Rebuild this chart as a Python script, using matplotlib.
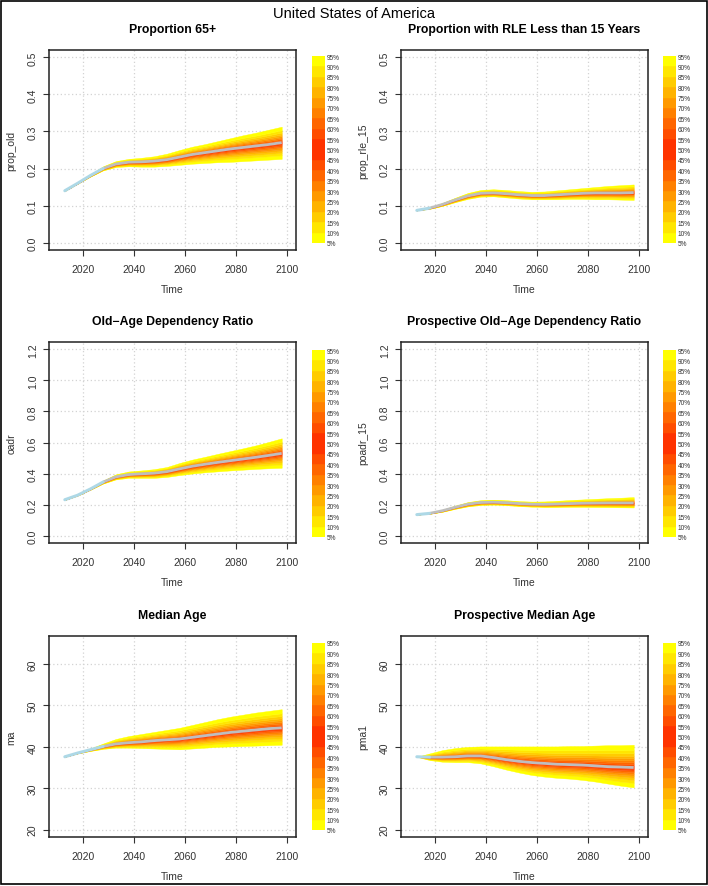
import matplotlib
matplotlib.use("Agg")
import matplotlib.pyplot as plt
from matplotlib.patches import Rectangle
from statistics import NormalDist

plt.rcParams['font.family'] = ['Liberation Sans', 'DejaVu Sans']

# ---- data ----
years = [2013, 2018, 2023, 2028, 2033, 2038, 2043, 2048, 2053,
         2058, 2063, 2068, 2073, 2078, 2083, 2088, 2093, 2098]

titles = ["Proportion 65+", "Proportion with RLE Less than 15 Years",
          "Old\u2212Age Dependency Ratio", "Prospective Old\u2212Age Dependency Ratio",
          "Median Age", "Prospective Median Age"]
ylabels = ["prop_old", "prop_rle_15", "oadr", "poadr_15", "ma", "pma1"]

# 50% line, 5% and 95% bounds
prop_old_med = [.140, .160, .181, .200, .212, .217, .218, .220, .224, .231, .238, .243, .248, .253, .257, .261, .265, .270]
prop_old_hi = [.140, .161, .184, .206, .220, .226, .229, .233, .240, .250, .259, .266, .274, .282, .290, .297, .305, .313]
prop_old_lo = [.140, .159, .178, .195, .204, .206, .205, .205, .207, .210, .213, .215, .217, .218, .220, .222, .224, .226]

rle_med = [.087, .093, .103, .115, .126, .133, .134, .132, .129, .127, .127, .129, .131, .133, .134, .134, .134, .135]
rle_hi = [.087, .095, .107, .121, .134, .142, .144, .142, .139, .137, .138, .141, .144, .147, .150, .153, .155, .157]
rle_lo = [.087, .091, .099, .109, .118, .124, .125, .122, .119, .117, .117, .117, .118, .118, .117, .117, .116, .115]

oadr_med = [.231, .260, .300, .345, .378, .393, .398, .402, .412, .430, .447, .460, .472, .483, .494, .505, .517, .530]
oadr_hi = [.231, .262, .305, .355, .395, .413, .420, .428, .442, .468, .490, .508, .527, .545, .563, .582, .604, .627]
oadr_lo = [.231, .258, .295, .335, .362, .372, .372, .372, .378, .390, .400, .408, .414, .420, .425, .430, .434, .437]

poadr_med = [.135, .143, .160, .182, .202, .213, .215, .212, .206, .202, .201, .203, .206, .208, .209, .210, .210, .210]
poadr_hi = [.135, .146, .167, .193, .216, .228, .231, .228, .222, .219, .220, .224, .229, .233, .237, .241, .244, .248]
poadr_lo = [.135, .140, .153, .172, .188, .197, .199, .196, .190, .186, .184, .184, .185, .185, .184, .183, .182, .181]

ma_med = [37.6, 38.5, 39.3, 40.1, 40.7, 41.0, 41.2, 41.5, 41.7, 41.9, 42.3, 42.7, 43.1, 43.5, 43.8, 44.1, 44.4, 44.6]
ma_hi = [37.6, 38.6, 39.6, 40.8, 41.9, 42.6, 43.1, 43.6, 44.1, 44.6, 45.3, 46.0, 46.7, 47.3, 47.8, 48.3, 48.7, 49.1]
ma_lo = [37.6, 38.4, 39.0, 39.5, 39.8, 39.8, 39.7, 39.6, 39.5, 39.4, 39.6, 39.8, 40.0, 40.1, 40.2, 40.3, 40.4, 40.5]

pma_med = [37.6, 37.5, 37.5, 37.6, 37.8, 37.8, 37.4, 36.9, 36.5, 36.2, 36.0, 35.8, 35.7, 35.6, 35.4, 35.2, 35.1, 35.0]
pma_hi = [37.6, 38.4, 39.2, 39.7, 40.0, 40.1, 40.1, 40.1, 40.1, 40.1, 40.1, 40.1, 40.2, 40.2, 40.3, 40.4, 40.4, 40.5]
pma_lo = [37.6, 36.8, 36.4, 36.3, 36.3, 36.0, 35.3, 34.5, 33.8, 33.2, 32.8, 32.5, 32.3, 32.0, 31.6, 31.1, 30.6, 30.2]

meds = [prop_old_med, rle_med, oadr_med, poadr_med, ma_med, pma_med]
his = [prop_old_hi, rle_hi, oadr_hi, poadr_hi, ma_hi, pma_hi]
los = [prop_old_lo, rle_lo, oadr_lo, poadr_lo, ma_lo, pma_lo]

yticks_list = [[0, .1, .2, .3, .4, .5], [0, .1, .2, .3, .4, .5],
               [0, .2, .4, .6, .8, 1.0, 1.2], [0, .2, .4, .6, .8, 1.0, 1.2],
               [20, 30, 40, 50, 60], [20, 30, 40, 50, 60]]
ylims = [(-0.02, 0.52), (-0.02, 0.52), (-0.048, 1.248), (-0.048, 1.248),
         (18.2, 66.8), (18.2, 66.8)]
blue_end = [3, 1, 3, 1, 3, 1]   # index where the light blue part stops

pct = [5, 10, 15, 20, 25, 30, 35, 40, 45, 50, 55, 60, 65, 70, 75, 80, 85, 90, 95]
# -----------------------------------

W, H = 708, 887
fig = plt.figure(figsize=(W / 100, H / 100), dpi=100)
fig.add_artist(Rectangle((0.002, 0.002), 0.996, 0.996, transform=fig.transFigure,
                         fill=False, edgecolor='black', lw=1.2))
fig.text(0.5, 1 - 14 / H, "United States of America", ha='center', va='center', fontsize=10.5)

# colours: yellow at the tails -> red in the middle
def band_color(k):
    d = min(k, len(pct) - 2 - k)
    t = d / 8.0
    g = 255 - t * (255 - 51)
    return (1.0, g / 255, 0.0)

z95 = NormalDist().inv_cdf(0.95)
zs = [NormalDist().inv_cdf(p / 100) / z95 for p in pct]

lefts = [49, 401]
rows = [(51, 251), (343, 544), (637, 838)]
bars = [(57, 244), (351, 538), (644, 831)]
bar_x = [312, 663]

for i in range(6):
    r, c = divmod(i, 2)
    top, bot = rows[r]
    ax = fig.add_axes([lefts[c] / W, 1 - bot / H, 247 / W, (bot - top) / H])
    med, hi, lo = meds[i], his[i], los[i]

    quants = []
    for z in zs:
        if z >= 0:
            quants.append([m + (h - m) * z for m, h in zip(med, hi)])
        else:
            quants.append([m + (m - l) * z for m, l in zip(med, lo)])
    for k in range(len(pct) - 1):
        col = band_color(k)
        ax.fill_between(years, quants[k], quants[k + 1], color=col,
                        lw=0.3, edgecolor=col, zorder=3)

    ax.plot(years[blue_end[i]:], med[blue_end[i]:], color='#bebebe', lw=2, zorder=4,
            solid_capstyle='butt')
    ax.plot(years[:blue_end[i] + 1], med[:blue_end[i] + 1], color='#add8e6', lw=2.2,
            zorder=5, solid_capstyle='round')

    ax.set_xlim(2006.8, 2103.6)
    ax.set_ylim(*ylims[i])
    ax.set_xticks([2020, 2040, 2060, 2080, 2100])
    ax.set_yticks(yticks_list[i])
    if i < 4:
        ax.set_yticklabels([f"{v:.1f}" for v in yticks_list[i]])
    for lbl in ax.get_yticklabels():
        lbl.set_rotation(90)
        lbl.set_va('center')
    ax.grid(True, color='#d3d3d3', ls=(0, (1, 2)), lw=0.9, zorder=1)
    ax.tick_params(direction='out', length=4, width=0.8, labelsize=7.5, color='#333333',
                   labelcolor='#333333')
    ax.tick_params(axis='x', pad=6)
    ax.tick_params(axis='y', pad=4)
    for s in ax.spines.values():
        s.set_linewidth(1.1)
        s.set_color('#222222')
    ax.set_title(titles[i], fontsize=8.8, fontweight='bold', pad=13)
    ax.set_xlabel("Time", fontsize=7.5, color='#333333', labelpad=7.5)
    ax.set_ylabel(ylabels[i], fontsize=7.5, color='#333333', labelpad=8)

    # legend strip
    btop, bbot = bars[r]
    lax = fig.add_axes([bar_x[c] / W, 1 - bbot / H, 13 / W, (bbot - btop) / H])
    for k in range(len(pct) - 1):
        col = band_color(k)
        lax.bar(0.5, 1, width=1, bottom=k, color=col, edgecolor=col, lw=0.3)
    lax.set_xlim(0, 1)
    lax.set_ylim(0, len(pct) - 1)
    lax.set_xticks([])
    lax.set_yticks(range(len(pct)))
    lax.set_yticklabels([f"{p}%" for p in pct])
    lax.yaxis.tick_right()
    lax.tick_params(axis='y', length=0, labelsize=4.7, pad=1, labelcolor='#333333')
    for s in lax.spines.values():
        s.set_visible(False)

fig.savefig("out.png", dpi=100)
